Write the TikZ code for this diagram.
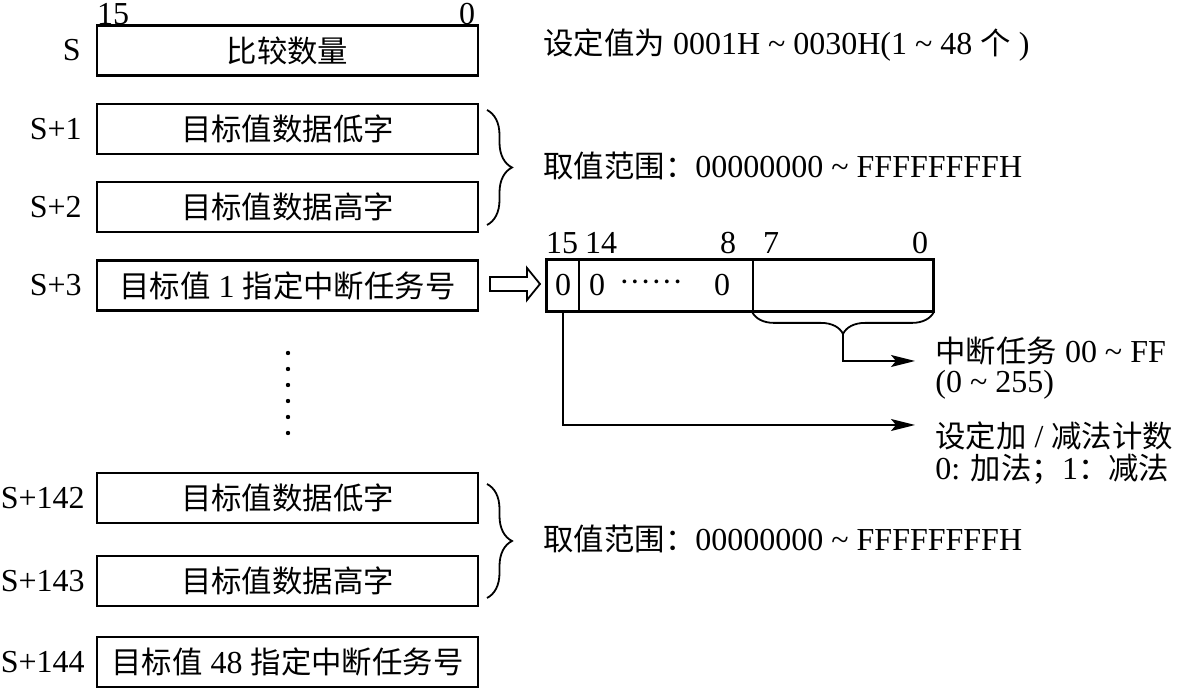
\documentclass[tikz,border=0pt]{standalone}
\usepackage{fontspec}
\setmainfont{Liberation Serif}
\newfontfamily\cjk{Noto Sans CJK SC}[Scale=0.95]
\usetikzlibrary{arrows.meta,decorations.pathreplacing}
\newcommand{\zh}[1]{{\cjk #1}}

\begin{document}
\begin{tikzpicture}[x=0.5pt, y=-0.5pt,
    every node/.style={font=\fontsize{16}{19}\selectfont, inner sep=0pt},
    wordbox/.style={draw, line width=1.4pt, minimum width=190.5pt, minimum height=25pt},
    bitcell/.style={draw, line width=0.9pt, minimum height=25.5pt},
    conn/.style={line width=0.9pt, -{Stealth[length=12pt,width=6pt,inset=2.5pt]}},
    rbrace/.style={decorate, decoration={brace, amplitude=12.5pt}, line width=0.9pt},
    dbrace/.style={decorate, decoration={brace, amplitude=11pt}, line width=0.9pt}]
        \useasboundingbox (0,0) rectangle (1178,688);
        % word list
        \node at (113,14) {15};
        \node at (467,14) {0};
        \node[wordbox] (s0) at (287.5,50.5) {\zh{比较数量}};
        \node[wordbox] (s1) at (287.5,129) {\zh{目标值数据低字}};
        \node[wordbox] (s2) at (287.5,207) {\zh{目标值数据高字}};
        \node[wordbox] (s3) at (287.5,285.5) {\zh{目标值} 1 \zh{指定中断任务号}};
        \node[wordbox] (s142) at (287.5,498) {\zh{目标值数据低字}};
        \node[wordbox] (s143) at (287.5,581) {\zh{目标值数据高字}};
        \node[wordbox] (s144) at (287.5,662) {\zh{目标值} 48 \zh{指定中断任务号}};
        \node[anchor=east] at (81,50.5) {S};
        \node[anchor=east] at (82,129) {S+1};
        \node[anchor=east] at (82,207) {S+2};
        \node[anchor=east] at (82,285.5) {S+3};
        \node[anchor=east] at (85,498) {S+142};
        \node[anchor=east] at (85,581) {S+143};
        \node[anchor=east] at (85,662) {S+144};
        \foreach \y in {353,369,...,433} \fill (288,\y) circle (1.1pt);
        % notes on the right
        \node[anchor=west] (cnt) at (543,45) {\zh{设定值为} 0001H \textasciitilde{} 0030H(1 \textasciitilde{} 48 \zh{个} )};
        \draw[rbrace] (487,110) -- (487,225);
        \node[anchor=west] (rng1) at (543,166) {\zh{取值范围：}00000000 \textasciitilde{} FFFFFFFFH};
        \draw[rbrace] (487,484) -- (487,598);
        \node[anchor=west] (rng2) at (543,539) {\zh{取值范围：}00000000 \textasciitilde{} FFFFFFFFH};
        % interrupt word bits
        \draw[line width=0.9pt] (490,277) -- (527,277) -- (527,268) -- (540,284) -- (527,300) -- (527,291) -- (490,291) -- cycle;
        \node[bitcell, minimum width=16pt] (b15) at (563,285.5) {0};
        \node[bitcell, minimum width=87pt] (b14) at (666,285.5) {};
        \node[bitcell, minimum width=90pt] (blo) at (843,285.5) {};
        \draw[line width=1.4pt] (b15.north west) rectangle (blo.south east);
        \node at (597,285.5) {0};
        \node at (651,286) {······};
        \node at (722,285.5) {0};
        \node at (562,243) {15};
        \node at (601,243) {14};
        \node at (728,243) {8};
        \node at (771,243) {7};
        \node at (920,243) {0};
        \draw[dbrace] (blo.south east) -- (blo.south west);
        \coordinate (tip) at (843,333);
        \coordinate (e1) at (915,361);
        \coordinate (e2) at (915,425);
        \draw[conn] (tip) |- (e1);
        \draw[conn] (b15.south) |- (e2);
        \node[anchor=west] (irq) at (935,351) {\zh{中断任务} 00 \textasciitilde{} FF};
        \node[anchor=west] (irqr) at (935,385) {(0 \textasciitilde{} 255)};
        \node[anchor=west] (dir) at (935,436) {\zh{设定加} / \zh{减法计数}};
        \node[anchor=west] (dirv) at (935,469) {0: \zh{加法；}1\zh{：减法}};
      \end{tikzpicture}
\end{document}
